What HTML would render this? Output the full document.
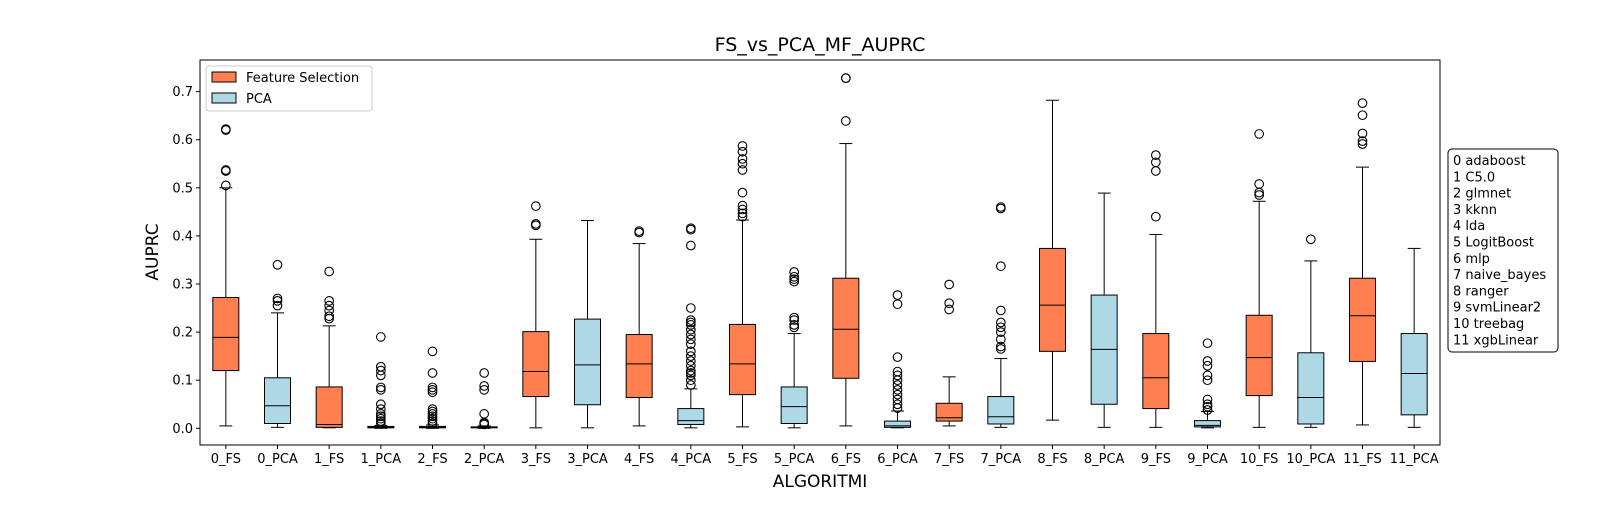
<!DOCTYPE html>
<html><head><meta charset="utf-8"><style>
body{margin:0;background:#fff;}
svg{font-family:"DejaVu Sans","Liberation Sans",sans-serif;}
</style></head><body>
<svg id="chart" width="1600" height="500" xmlns="http://www.w3.org/2000/svg">
<rect width="1600" height="500" fill="#fff"/>
<text x="820" y="51" text-anchor="middle" font-size="19">FS_vs_PCA_MF_AUPRC</text>
<text x="820" y="487" text-anchor="middle" font-size="17">ALGORITMI</text>
<text transform="translate(158,252) rotate(-90)" text-anchor="middle" font-size="17">AUPRC</text>
<g id="marks"></g>
<rect x="200" y="60" width="1240" height="385" fill="none" stroke="#000" stroke-width="1"/>
<g>
<rect x="206" y="66" width="166" height="45" rx="3" fill="#fff" stroke="#ccc"/>
<rect x="212" y="72" width="24" height="10" fill="#FF7F50" stroke="#000"/>
<text x="246" y="82" font-size="13">Feature Selection</text>
<rect x="212" y="93" width="24" height="10" fill="#ADD8E6" stroke="#000"/>
<text x="246" y="103" font-size="13">PCA</text>
</g>
<g>
<rect x="1448" y="149" width="110" height="203" rx="4" fill="#fff" stroke="#000"/>
<g id="keytext" font-size="13"></g>
</g>
</svg>
<script>
const categories=["0_FS","0_PCA","1_FS","1_PCA","2_FS","2_PCA","3_FS","3_PCA","4_FS","4_PCA","5_FS","5_PCA","6_FS","6_PCA","7_FS","7_PCA","8_FS","8_PCA","9_FS","9_PCA","10_FS","10_PCA","11_FS","11_PCA"];
const whiskerLow=[0.005,0.002,0.001,0,0,0,0.001,0.001,0.005,0.001,0.003,0.001,0.005,0.001,0.005,0.002,0.017,0.002,0.002,0.001,0.002,0.002,0.007,0.002];
const q1=[0.12,0.01,0.002,0.001,0.001,0.001,0.066,0.049,0.064,0.008,0.07,0.01,0.104,0.002,0.015,0.009,0.16,0.05,0.041,0.003,0.068,0.009,0.139,0.028];
const medians=[0.189,0.047,0.008,0.002,0.002,0.002,0.118,0.132,0.134,0.016,0.134,0.045,0.206,0.005,0.022,0.024,0.256,0.164,0.105,0.006,0.147,0.064,0.234,0.114];
const q3=[0.272,0.105,0.086,0.004,0.004,0.003,0.201,0.227,0.195,0.041,0.216,0.086,0.312,0.015,0.052,0.066,0.374,0.277,0.197,0.016,0.235,0.157,0.312,0.197];
const whiskerHigh=[0.5,0.24,0.213,0.006,0.007,0.005,0.393,0.432,0.384,0.082,0.433,0.197,0.592,0.036,0.107,0.145,0.682,0.489,0.403,0.035,0.472,0.348,0.543,0.374];
const outliers=[
[0.505,0.535,0.537,0.62,0.622],
[0.255,0.265,0.27,0.34],
[0.228,0.233,0.245,0.255,0.265,0.326],
[0.01,0.015,0.02,0.025,0.03,0.04,0.05,0.08,0.085,0.11,0.12,0.128,0.19],
[0.01,0.015,0.02,0.025,0.03,0.035,0.04,0.075,0.08,0.085,0.115,0.16],
[0.008,0.01,0.012,0.03,0.08,0.088,0.115],
[0.422,0.425,0.462],
[],
[0.407,0.41],
[0.09,0.1,0.11,0.115,0.12,0.13,0.14,0.15,0.16,0.175,0.185,0.195,0.205,0.215,0.22,0.225,0.25,0.38,0.413,0.416],
[0.44,0.447,0.455,0.463,0.49,0.537,0.55,0.56,0.575,0.587],
[0.21,0.215,0.225,0.23,0.305,0.31,0.315,0.325],
[0.639,0.728,0.728],
[0.042,0.05,0.06,0.07,0.08,0.09,0.1,0.11,0.118,0.148,0.258,0.277],
[0.247,0.26,0.299],
[0.165,0.17,0.185,0.2,0.21,0.22,0.245,0.337,0.457,0.46],
[],
[],
[0.44,0.535,0.553,0.568],
[0.038,0.045,0.05,0.06,0.1,0.11,0.13,0.14,0.177],
[0.485,0.49,0.508,0.612],
[0.393],
[0.591,0.597,0.613,0.651,0.676],
[]];
const yTicks=[0,0.1,0.2,0.3,0.4,0.5,0.6,0.7];
const keyLabels=["0 adaboost","1 C5.0","2 glmnet","3 kknn","4 lda","5 LogitBoost","6 mlp","7 naive_bayes","8 ranger","9 svmLinear2","10 treebag","11 xgbLinear"];

const NS="http://www.w3.org/2000/svg";
const X0=200,X1=1440,Y0=445,Y1=60,YMIN=-0.0347,YMAX=0.7657;
function xScale(i){return X0+(i+0.5)*(X1-X0)/categories.length;}
function yScale(v){return Y0-(v-YMIN)/(YMAX-YMIN)*(Y0-Y1);}
function mk(tag,attrs,parent){const e=document.createElementNS(NS,tag);for(const k in attrs)e.setAttribute(k,attrs[k]);parent.appendChild(e);return e;}
const g=document.getElementById('marks');
const svg=document.getElementById('chart');
yTicks.forEach(t=>{
  const y=yScale(t);
  const tk=mk('line',{x1:X0-4,x2:X0,y1:y,y2:y,stroke:'#000'},g);
  
  
  const tx=mk('text',{x:X0-7,y:y+4.5,'text-anchor':'end','font-size':13},g);
  tx.textContent=t.toFixed(1);
  
  
});
const bw=26,cw=13;
categories.forEach((c,i)=>{
  const x=xScale(i);
  const fill=c.indexOf('PCA')>=0?'#ADD8E6':'#FF7F50';
  const grp=mk('g',{},g);
  
  
  mk('line',{x1:x,x2:x,y1:yScale(whiskerLow[i]),y2:yScale(q1[i]),stroke:'#000'},grp);
  mk('line',{x1:x,x2:x,y1:yScale(q3[i]),y2:yScale(whiskerHigh[i]),stroke:'#000'},grp);
  mk('line',{x1:x-cw/2,x2:x+cw/2,y1:yScale(whiskerLow[i]),y2:yScale(whiskerLow[i]),stroke:'#000'},grp);
  mk('line',{x1:x-cw/2,x2:x+cw/2,y1:yScale(whiskerHigh[i]),y2:yScale(whiskerHigh[i]),stroke:'#000'},grp);
  const yt=yScale(q3[i]),yb=yScale(q1[i]);
  mk('rect',{x:x-bw/2,y:yt,width:bw,height:Math.max(yb-yt,0.5),fill:fill,stroke:'#000'},grp);
  mk('line',{x1:x-bw/2,x2:x+bw/2,y1:yScale(medians[i]),y2:yScale(medians[i]),stroke:'#000'},grp);
  outliers[i].forEach(v=>{
    const o=mk('circle',{cx:x,cy:yScale(v),r:4.3,fill:'none',stroke:'#000','stroke-width':1.1},grp);
    
    
  });
  const tk=mk('line',{x1:x,x2:x,y1:Y0,y2:Y0+4,stroke:'#000'},g);
  
  
  const tx=mk('text',{x:x,y:Y0+18,'text-anchor':'middle','font-size':13},g);
  tx.textContent=c;
  
  
});
const kt=document.getElementById('keytext');
keyLabels.forEach((l,i)=>{
  const t=mk('text',{x:1453,y:165+i*16.3},kt);
  t.textContent=l;
  
  
});
</script>
</body></html>
